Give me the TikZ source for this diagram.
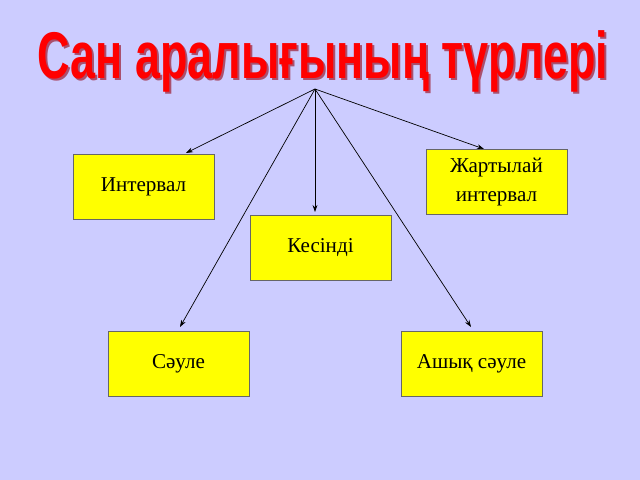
\documentclass[tikz,border=0pt]{standalone}
\usepackage{fontspec}
\setmainfont{Liberation Serif}
\newfontfamily\titlefont{Liberation Sans}
\usetikzlibrary{arrows.meta}
\definecolor{bgc}{RGB}{204,204,255}
\definecolor{boxc}{RGB}{255,255,0}
\definecolor{titlec}{RGB}{255,0,0}
\definecolor{shadc}{RGB}{170,80,110}
\tikzset{
  kind/.style={draw=black!60,fill=boxc,line width=0.6pt,minimum width=3.525cm,
    minimum height=1.625cm,align=center,font=\fontsize{15}{20}\selectfont,inner sep=0pt},
  link/.style={-{Stealth[length=5pt,width=3.5pt]},line width=0.5pt}
}
\begin{document}
\begin{tikzpicture}[x=0.025cm,y=-0.025cm]
    \path[fill=bgc] (0,0) rectangle (640,480);
    % title
    \node[anchor=base,text=shadc,xscale=0.68,font=\titlefont\bfseries\fontsize{47}{50}\selectfont] (ttlsh) at (325,80) {Сан аралығының түрлері};
    \node[anchor=base,text=titlec,xscale=0.68,font=\titlefont\bfseries\fontsize{47}{50}\selectfont] (ttl) at (323,78) {Сан аралығының түрлері};
    % boxes
    \node[kind] (intv) at (143.5,186.5) {Интервал};
    \node[kind] (half) at (496.5,182) {Жартылай\\интервал};
    \node[kind] (segm) at (320.5,247.5) {Кесінді};
    \node[kind] (ray) at (178.5,363.5) {Сәуле};
    \node[kind] (oray) at (471.5,363.5) {Ашық сәуле};
    % arrow tips
    \coordinate (top) at (315,89);
    \coordinate (tintv) at (186,153);
    \coordinate (thalf) at (484,149);
    \coordinate (tsegm) at (315,212);
    \coordinate (tray) at (180,327);
    \coordinate (toray) at (471,327);
    \foreach \t in {tintv,thalf,tsegm,tray,toray}
      \draw[link] (top) -- (\t);
\end{tikzpicture}
\end{document}
